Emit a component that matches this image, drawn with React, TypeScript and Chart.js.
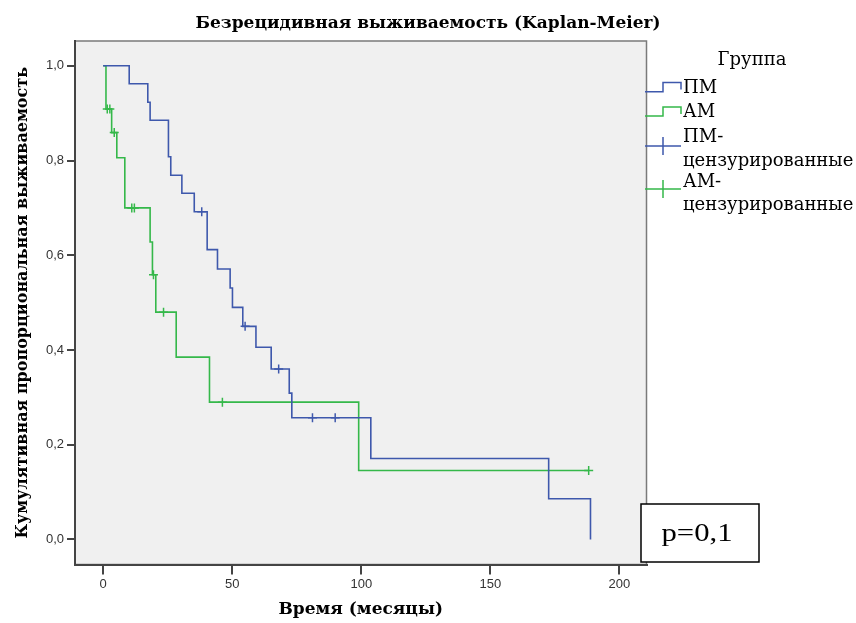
import React, { useEffect, useRef } from "react";
import { Chart, registerables } from "chart.js";

Chart.register(...registerables);

// ---- Text ----
const chartTitle = "Безрецидивная выживаемость (Kaplan-Meier)";
const xAxisTitle = "Время (месяцы)";
const yAxisTitle = "Кумулятивная пропорциональная выживаемость";
const legendTitle = "Группа";
const groupNames = ["ПМ", "АМ"];
const censorLabels = [["ПМ-", "цензурированные"], ["АМ-", "цензурированные"]];
const pValueText = "p=0,1";

// ---- Data (Kaplan-Meier steps: time in months, survival after the step) ----
const pmTimes = [0, 10.1, 17.3, 18.2, 25.3, 26.2, 30.5, 35.3, 40.3, 44.3, 49.2, 50.1, 54.1, 59.2, 65.1, 72.1, 73.1, 103.7, 172.6, 188.8];
const pmSurv = [1, 0.962, 0.923, 0.885, 0.808, 0.769, 0.731, 0.692, 0.612, 0.571, 0.531, 0.49, 0.45, 0.406, 0.36, 0.309, 0.257, 0.171, 0.086, 0];

const amTimes = [0, 1.1, 3.3, 5.3, 8.4, 18.2, 19.1, 20.4, 28.3, 41.2, 99.0, 188.1];
const amSurv = [1, 0.909, 0.859, 0.806, 0.7, 0.628, 0.559, 0.48, 0.385, 0.29, 0.1455, 0.1455];

const pmCensorTimes = [38.2, 55.0, 68.0, 81.1, 89.9];
const pmCensorSurv = [0.692, 0.45, 0.36, 0.257, 0.257];

const amCensorTimes = [1.6, 2.6, 4.3, 11.1, 12.1, 19.5, 23.4, 46.2, 188.1];
const amCensorSurv = [0.909, 0.909, 0.859, 0.7, 0.7, 0.559, 0.48, 0.29, 0.1455];

const xTickValues = [0, 50, 100, 150, 200];
const yTickValues = [0, 0.2, 0.4, 0.6, 0.8, 1.0];
const xMin = -10.9;
const xMax = 210.5;
const yMin = -0.0528;
const yMax = 1.0524;

// ---- Styles ----
const BLUE = "#3e58ac";
const GREEN = "#35b84a";
const PLOT_BG = "#f0f0f0";
const SERIF = "'DejaVu Serif', serif";
const SANS = "'Liberation Sans', Arial, sans-serif";

const toPoints = (xs: number[], ys: number[]) => xs.map((x, i) => ({ x, y: ys[i] }));

const decorPlugin = {
  id: "decor",
  beforeDraw(chart: any) {
    const { ctx, chartArea: a } = chart;
    ctx.save();
    ctx.fillStyle = PLOT_BG;
    ctx.fillRect(a.left, a.top, a.right - a.left, a.bottom - a.top);
    ctx.strokeStyle = "#7a7a7a";
    ctx.lineWidth = 1.5;
    ctx.strokeRect(a.left, a.top, a.right - a.left, a.bottom - a.top);
    ctx.restore();
  },
  afterDraw(chart: any) {
    const { ctx } = chart;
    ctx.save();
    // Title
    ctx.fillStyle = "#000";
    ctx.font = `bold 17px ${SERIF}`;
    ctx.textAlign = "center";
    ctx.textBaseline = "middle";
    ctx.fillText(chartTitle, 428, 24);

    // Legend
    ctx.font = `18px ${SERIF}`;
    ctx.fillText(legendTitle, 752, 60);
    ctx.textAlign = "left";
    const colors = [BLUE, GREEN];
    const stepY = [[91.7, 82.5], [116, 107]];
    ctx.lineWidth = 1.5;
    for (let i = 0; i < 2; i++) {
      ctx.strokeStyle = colors[i];
      ctx.beginPath();
      ctx.moveTo(645, stepY[i][0]);
      ctx.lineTo(663, stepY[i][0]);
      ctx.lineTo(663, stepY[i][1]);
      ctx.lineTo(681, stepY[i][1]);
      ctx.lineTo(681, stepY[i][1] + 7);
      ctx.stroke();
      ctx.fillStyle = "#000";
      ctx.fillText(groupNames[i], 683, (stepY[i][0] + stepY[i][1]) / 2 + 1);
    }
    const cY = [[146, 137, 161.5], [189, 182, 205]];
    for (let i = 0; i < 2; i++) {
      ctx.strokeStyle = colors[i];
      ctx.beginPath();
      ctx.moveTo(645, cY[i][0]);
      ctx.lineTo(681, cY[i][0]);
      ctx.moveTo(663, cY[i][0] - 9);
      ctx.lineTo(663, cY[i][0] + 9);
      ctx.stroke();
      ctx.fillStyle = "#000";
      ctx.fillText(censorLabels[i][0], 683, cY[i][1]);
      ctx.fillText(censorLabels[i][1], 683, cY[i][2]);
    }

    // p-value box
    ctx.fillStyle = "#fff";
    ctx.fillRect(641, 504, 118, 58);
    ctx.strokeStyle = "#000";
    ctx.lineWidth = 1.5;
    ctx.strokeRect(641, 504, 118, 58);
    ctx.fillStyle = "#000";
    ctx.font = `26px 'Liberation Serif', serif`;
    ctx.textAlign = "center";
    ctx.translate(697, 534);
    ctx.scale(1.18, 1);
    ctx.fillText(pValueText, 0, 0);
    ctx.restore();
  },
};

export default function App() {
  const canvasRef = useRef<HTMLCanvasElement | null>(null);

  useEffect(() => {
    document.body.style.margin = "0";
    const canvas = canvasRef.current;
    if (!canvas) return;
    const chart = new Chart(canvas, {
      type: "line",
      data: {
        datasets: [
          {
            label: groupNames[0],
            data: toPoints(pmTimes, pmSurv),
            borderColor: BLUE,
            borderWidth: 1.6,
            stepped: true,
            pointRadius: 0,
            fill: false,
          },
          {
            label: groupNames[1],
            data: toPoints(amTimes, amSurv),
            borderColor: GREEN,
            borderWidth: 1.6,
            stepped: true,
            pointRadius: 0,
            fill: false,
          },
          {
            label: censorLabels[0].join(""),
            data: toPoints(pmCensorTimes, pmCensorSurv),
            showLine: false,
            pointStyle: "cross",
            pointRadius: 4.5,
            pointBorderWidth: 1.5,
            borderColor: BLUE,
            backgroundColor: BLUE,
          },
          {
            label: censorLabels[1].join(""),
            data: toPoints(amCensorTimes, amCensorSurv),
            showLine: false,
            pointStyle: "cross",
            pointRadius: 4.5,
            pointBorderWidth: 1.5,
            borderColor: GREEN,
            backgroundColor: GREEN,
          },
        ],
      },
      options: {
        responsive: false,
        animation: false,
        devicePixelRatio: 1,
        layout: { padding: { top: 41, right: 209.5, left: 0, bottom: 0 } },
        plugins: {
          legend: { display: false },
          tooltip: { enabled: false },
          title: { display: false },
        },
        scales: {
          x: {
            type: "linear",
            min: xMin,
            max: xMax,
            afterBuildTicks: (s: any) => {
              s.ticks = xTickValues.map((v) => ({ value: v }));
            },
            afterFit: (s: any) => {
              s.height = 58.5;
            },
            ticks: {
              font: { family: SANS, size: 13 },
              color: "#333",
              padding: 2,
              maxRotation: 0,
              callback: (v: any) => String(v),
            },
            grid: { drawOnChartArea: false, drawTicks: true, tickLength: 10, color: "#444", lineWidth: 2 },
            border: { display: true, color: "#444", width: 2 },
            title: {
              display: true,
              text: xAxisTitle,
              font: { family: SERIF, size: 17, weight: "bold" },
              color: "#000",
              padding: { top: 0, bottom: 3 },
            },
          },
          y: {
            type: "linear",
            min: yMin,
            max: yMax,
            afterBuildTicks: (s: any) => {
              s.ticks = yTickValues.map((v) => ({ value: v }));
            },
            afterFit: (s: any) => {
              s.width = 75;
            },
            ticks: {
              font: { family: SANS, size: 13 },
              color: "#333",
              padding: 3,
              callback: (v: any) => Number(v).toFixed(1).replace(".", ","),
            },
            grid: { drawOnChartArea: false, drawTicks: true, tickLength: 8, color: "#444", lineWidth: 2 },
            border: { display: true, color: "#444", width: 2 },
            title: {
              display: true,
              text: yAxisTitle,
              font: { family: SERIF, size: 16, weight: "bold" },
              color: "#000",
              padding: { top: 13, bottom: 0 },
            },
          },
        },
      },
      plugins: [decorPlugin],
    });
    return () => chart.destroy();
  }, []);

  return (
    <div style={{ position: "absolute", left: 0, top: 0, width: 856, height: 623, background: "#fff" }}>
      <canvas ref={canvasRef} width={856} height={623} style={{ display: "block" }} />
    </div>
  );
}
